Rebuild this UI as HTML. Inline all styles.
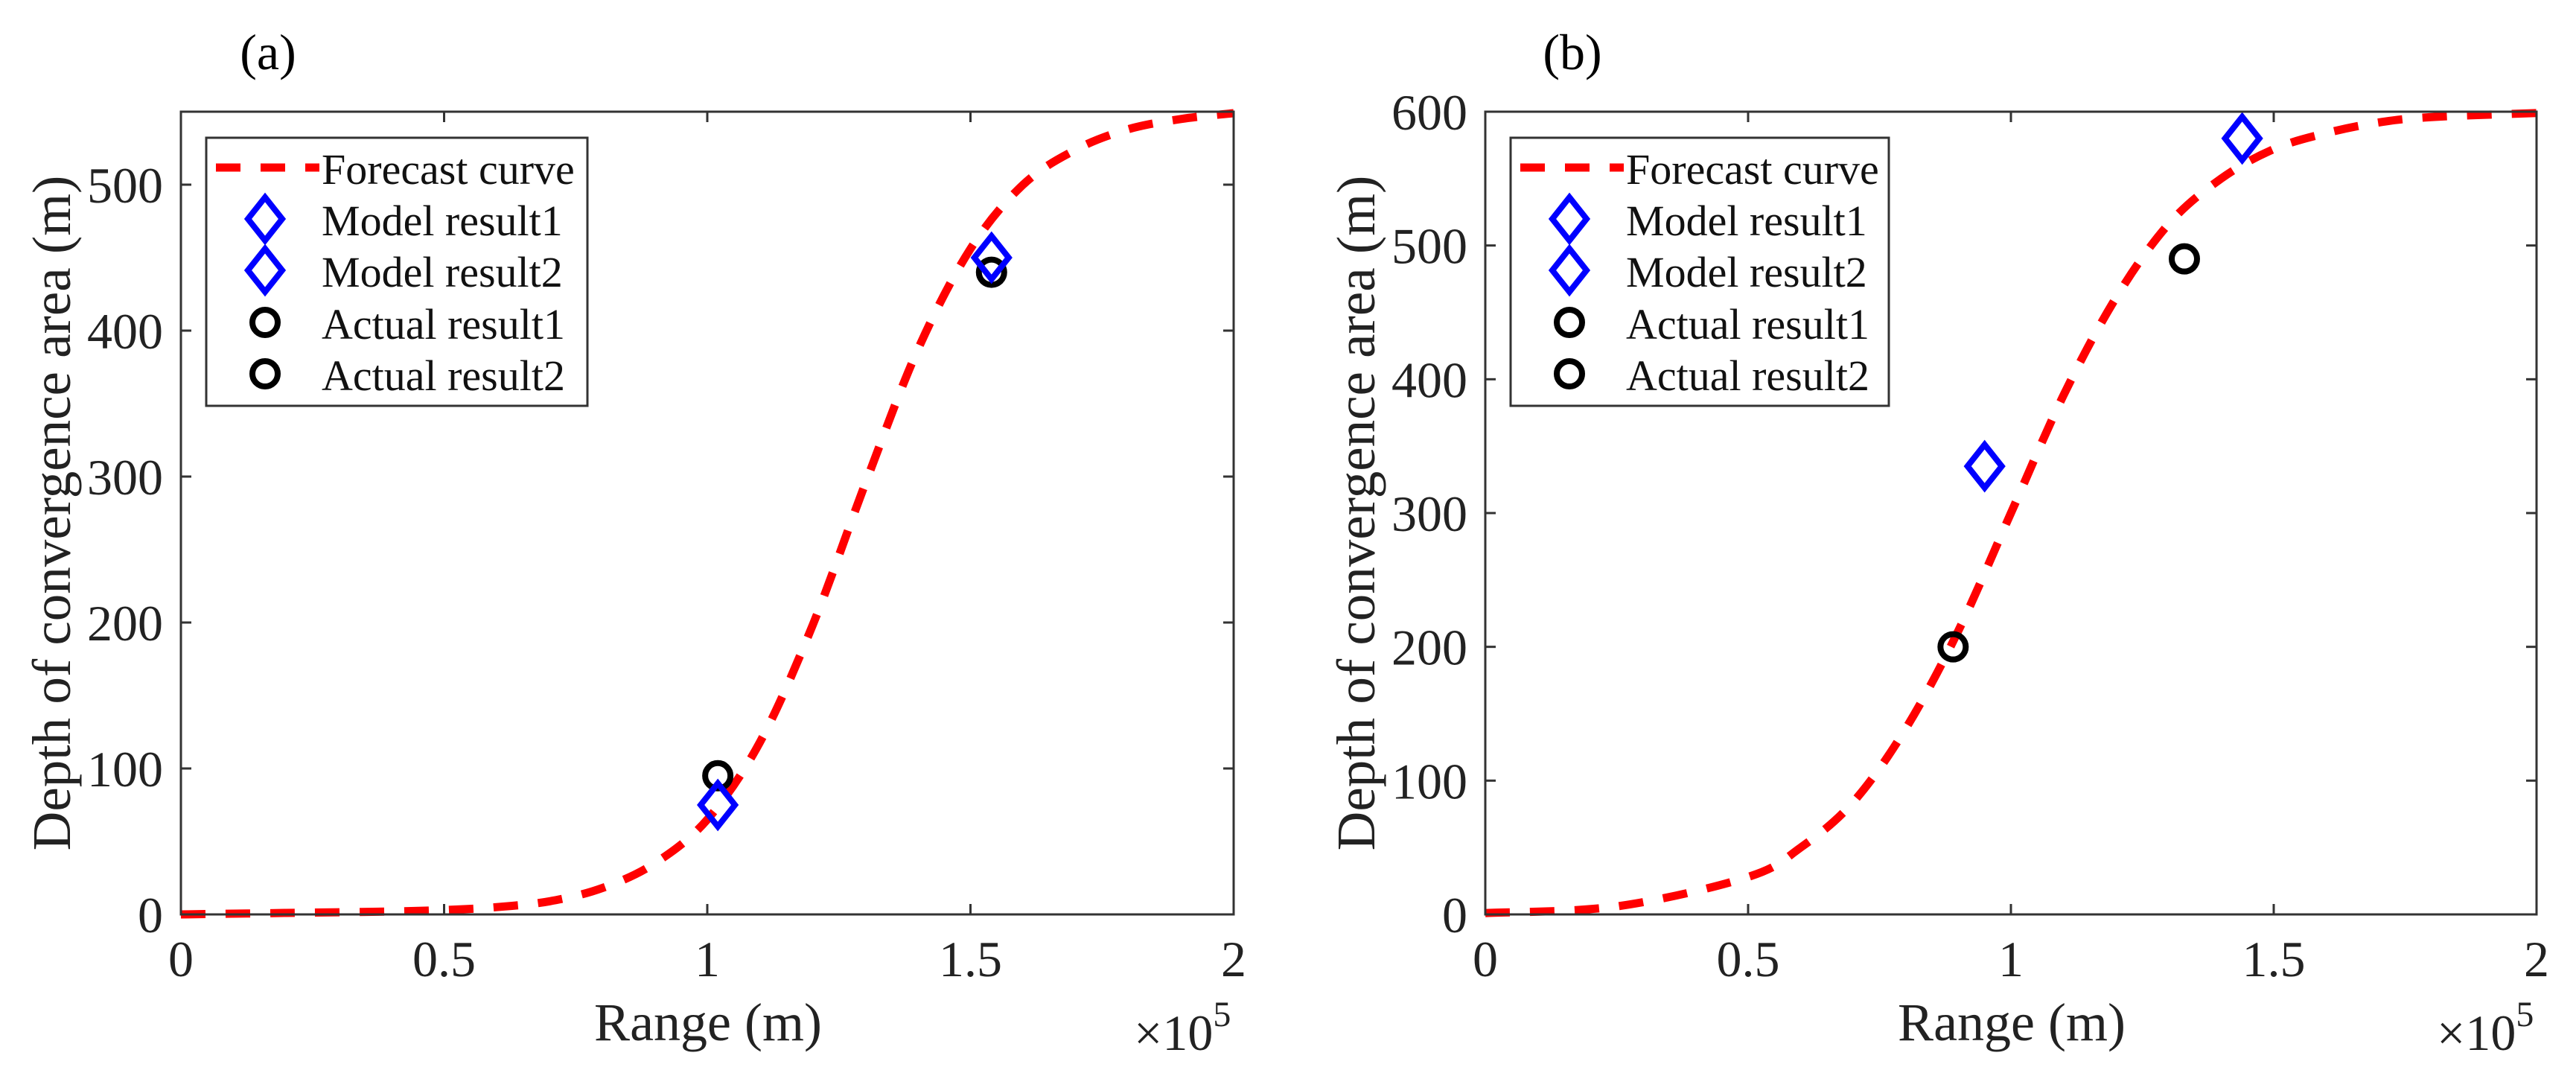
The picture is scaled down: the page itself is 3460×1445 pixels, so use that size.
<!DOCTYPE html>
<html><head><meta charset="utf-8"><style>
html,body{margin:0;padding:0;background:#fff;}
svg{display:block;font-family:"Liberation Serif",serif;}
text{font-family:"Liberation Serif",serif;}
</style></head><body>
<svg id="fig" width="3460" height="1445" viewBox="0 0 3460 1445"></svg>
<script>
// Panel (a) data
const curveAX = [0,0.2,0.4,0.5,0.6,0.7,0.8,0.9,1.0,1.1,1.2,1.3,1.4,1.5,1.6,1.7,1.8,1.9,2.0];
const curveAY = [0,1,2,3,5,9,18,35,65,118,198,295,387,456,500,524,538,545,549];
const modelAX = [1.02,1.54];
const modelAY = [75,450];
const actualAX = [1.02,1.54];
const actualAY = [95,440];
const yTicksA = [0,100,200,300,400,500];
// Panel (b) data
const curveBX = [0,0.25,0.5,0.6,0.7,0.8,0.9,1.0,1.1,1.2,1.3,1.4,1.5,1.6,1.7,1.8,2.0];
const curveBY = [1,6,28,50,84,139,212,300,388,461,516,550,572,584,592,596,599];
const modelBX = [0.95,1.44];
const modelBY = [335,580];
const actualBX = [0.89,1.33];
const actualBY = [200,490];
const yTicksB = [0,100,200,300,400,500,600];
const xTicks = [0,0.5,1,1.5,2];
const xTickLabels = ["0","0.5","1","1.5","2"];
const legendLabels = ["Forecast curve","Model result1","Model result2","Actual result1","Actual result2"];

const NS="http://www.w3.org/2000/svg";
const svg=document.getElementById('fig');
function mk(tag,attrs,parent){const e=document.createElementNS(NS,tag);for(const k in attrs)e.setAttribute(k,attrs[k]);(parent||svg).appendChild(e);return e;}
const FF='"Liberation Serif", serif';

function smoothPath(px,py){
  let d='M'+px[0].toFixed(1)+','+py[0].toFixed(1);
  const n=px.length;
  for(let i=0;i<n-1;i++){
    const p0x=px[Math.max(i-1,0)],p0y=py[Math.max(i-1,0)];
    const p3x=px[Math.min(i+2,n-1)],p3y=py[Math.min(i+2,n-1)];
    const c1x=px[i]+(px[i+1]-p0x)/6,c1y=py[i]+(py[i+1]-p0y)/6;
    const c2x=px[i+1]-(p3x-px[i])/6,c2y=py[i+1]-(p3y-py[i])/6;
    d+=`C${c1x.toFixed(1)},${c1y.toFixed(1)} ${c2x.toFixed(1)},${c2y.toFixed(1)} ${px[i+1].toFixed(1)},${py[i+1].toFixed(1)}`;
  }
  return d;
}

function panel(cfg){
  const g=mk('g',{});
  
  
  const L=cfg.left,R=cfg.right,T=150,B=1228;
  const sx=v=>L+(v-0)/(2-0)*(R-L);
  const sy=v=>B-(v/cfg.ymax)*(B-T);
  const t=mk('text',{x:cfg.titleX,y:93,'font-size':68,'text-anchor':'middle',fill:'#000','font-family':FF},g);
  t.textContent=cfg.title;
  
  
  const p=mk('path',{d:smoothPath(cfg.cx.map(sx),cfg.cy.map(sy)),fill:'none',stroke:'#ff0000','stroke-width':11,'stroke-dasharray':'33,27'},g);
  
  
  function diamond(X,Y,parent){return mk('path',{d:`M${X},${Y-29}L${X+23},${Y}L${X},${Y+29}L${X-23},${Y}Z`,fill:'none',stroke:'#0000ff','stroke-width':8,'stroke-linejoin':'miter'},parent);}
  function circ(X,Y,parent){return mk('circle',{cx:X,cy:Y,r:17,fill:'none',stroke:'#000','stroke-width':8},parent);}
  cfg.ax.forEach((x,i)=>{const e=circ(sx(x),sy(cfg.ay[i]),g);
    
    });
  cfg.mx.forEach((x,i)=>{const e=diamond(sx(x),sy(cfg.my[i]),g);
    
    });
  const box=mk('rect',{x:L,y:T,width:R-L,height:B-T,fill:'none',stroke:'#333','stroke-width':3},g);
  
  
  xTicks.forEach((v,i)=>{const X=sx(v);
    mk('line',{x1:X,y1:B,x2:X,y2:B-14,stroke:'#333','stroke-width':3},g);
    mk('line',{x1:X,y1:T,x2:X,y2:T+14,stroke:'#333','stroke-width':3},g);
    const tl=mk('text',{x:X,y:B+83,'font-size':68,'text-anchor':'middle',fill:'#222','font-family':FF},g);
    tl.textContent=xTickLabels[i];
    
    });
  cfg.yt.forEach(v=>{const Y=sy(v);
    mk('line',{x1:L,y1:Y,x2:L+14,y2:Y,stroke:'#333','stroke-width':3},g);
    mk('line',{x1:R,y1:Y,x2:R-14,y2:Y,stroke:'#333','stroke-width':3},g);
    const tl=mk('text',{x:L-24,y:Y+24,'font-size':68,'text-anchor':'end',fill:'#222','font-family':FF},g);
    tl.textContent=String(v);
    
    });
  const xl=mk('text',{x:(L+R)/2+1,y:1397,'font-size':72,'text-anchor':'middle',fill:'#222','font-family':FF},g);
  xl.textContent='Range (m)';
  
  
  const ex=mk('text',{x:R-134,y:1410,'font-size':68,fill:'#222','font-family':FF},g);
  ex.innerHTML='×10<tspan dy="-32" font-size="48">5</tspan>';
  
  
  const yl=mk('text',{x:0,y:0,'font-size':73,'text-anchor':'middle',fill:'#222','font-family':FF,transform:`translate(${L-149},${(T+B)/2}) rotate(-90)`},g);
  yl.textContent='Depth of convergence area (m)';
  
  
  const lg=mk('g',{},g);
  
  
  const lx=L+34;
  mk('rect',{x:lx,y:185,width:cfg.legW,height:360,fill:'#fff',stroke:'#333','stroke-width':3},lg);
  const rows=[225,294,363,433,502];
  rows.forEach((ry,i)=>{
    const mxp=lx+79;
    if(i===0){mk('line',{x1:lx+13,y1:ry,x2:lx+152,y2:ry,stroke:'#ff0000','stroke-width':11,'stroke-dasharray':'33,27'},lg);}
    else if(i<3){diamond(mxp,ry,lg);}
    else{circ(mxp,ry,lg);}
    const tx=mk('text',{x:lx+155,y:ry+22,'font-size':58,fill:'#111','font-family':FF},lg);
    tx.textContent=legendLabels[i];
    
    
  });
}
panel({name:'panel-a',title:'(a)',titleX:360,left:243,right:1657,ymax:550,yt:yTicksA,cx:curveAX,cy:curveAY,mx:modelAX,my:modelAY,ax:actualAX,ay:actualAY,legW:512});
panel({name:'panel-b',title:'(b)',titleX:2112,left:1995,right:3407,ymax:600,yt:yTicksB,cx:curveBX,cy:curveBY,mx:modelBX,my:modelBY,ax:actualBX,ay:actualBY,legW:508});
</script>
</body></html>
